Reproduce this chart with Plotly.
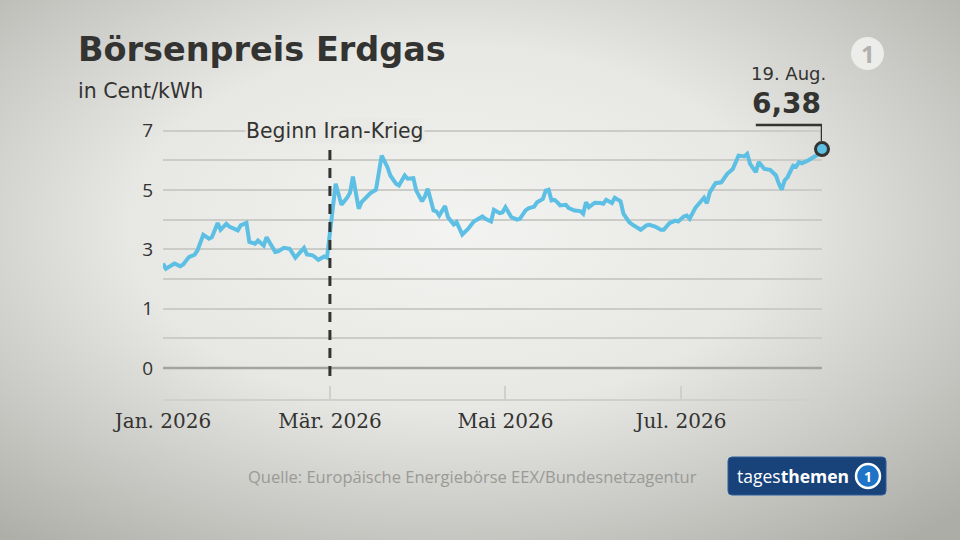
import base64
import plotly.graph_objects as go

# Börsenpreis Erdgas in Cent/kWh
dates = [
    "2026-01-02", "2026-01-03", "2026-01-06", "2026-01-08", "2026-01-09", "2026-01-11",
    "2026-01-13", "2026-01-14", "2026-01-16", "2026-01-18", "2026-01-19", "2026-01-21",
    "2026-01-22", "2026-01-24", "2026-01-25", "2026-01-28", "2026-01-29", "2026-01-31",
    "2026-02-01", "2026-02-03", "2026-02-04", "2026-02-06", "2026-02-07", "2026-02-10",
    "2026-02-11", "2026-02-13", "2026-02-15", "2026-02-17", "2026-02-20", "2026-02-21",
    "2026-02-23", "2026-02-25", "2026-02-27", "2026-02-28", "2026-03-03", "2026-03-05",
    "2026-03-07", "2026-03-08", "2026-03-09", "2026-03-11", "2026-03-12", "2026-03-14",
    "2026-03-15", "2026-03-17", "2026-03-19", "2026-03-21", "2026-03-22", "2026-03-24",
    "2026-03-25", "2026-03-27", "2026-03-28", "2026-03-30", "2026-03-31", "2026-04-02",
    "2026-04-03", "2026-04-04", "2026-04-06", "2026-04-07", "2026-04-08", "2026-04-10",
    "2026-04-11", "2026-04-13", "2026-04-14", "2026-04-16", "2026-04-18", "2026-04-20",
    "2026-04-22", "2026-04-23", "2026-04-24", "2026-04-26", "2026-04-27", "2026-04-29",
    "2026-04-30", "2026-05-01", "2026-05-03", "2026-05-05", "2026-05-06", "2026-05-08",
    "2026-05-09", "2026-05-11", "2026-05-12", "2026-05-14", "2026-05-15", "2026-05-16",
    "2026-05-17", "2026-05-18", "2026-05-19", "2026-05-20", "2026-05-22", "2026-05-23",
    "2026-05-25", "2026-05-27", "2026-05-28", "2026-05-29", "2026-05-30", "2026-06-01",
    "2026-06-03", "2026-06-04", "2026-06-05", "2026-06-07", "2026-06-08", "2026-06-10",
    "2026-06-11", "2026-06-13", "2026-06-14", "2026-06-16", "2026-06-17", "2026-06-19",
    "2026-06-20", "2026-06-22", "2026-06-24", "2026-06-25", "2026-06-27", "2026-06-29",
    "2026-06-30", "2026-07-02", "2026-07-03", "2026-07-04", "2026-07-06", "2026-07-09",
    "2026-07-10", "2026-07-11", "2026-07-13", "2026-07-15", "2026-07-17", "2026-07-19",
    "2026-07-20", "2026-07-21", "2026-07-23", "2026-07-24", "2026-07-25", "2026-07-27",
    "2026-07-28", "2026-07-30", "2026-08-01", "2026-08-03", "2026-08-04", "2026-08-05",
    "2026-08-06", "2026-08-07", "2026-08-09", "2026-08-10", "2026-08-11", "2026-08-12",
    "2026-08-14", "2026-08-15", "2026-08-17", "2026-08-19",
]
prices = [
    2.52, 2.35, 2.52, 2.43, 2.49, 2.74,
    2.82, 2.97, 3.49, 3.36, 3.41, 3.89,
    3.66, 3.86, 3.77, 3.64, 3.81, 3.89,
    3.25, 3.19, 3.30, 3.13, 3.41, 2.91,
    2.93, 3.05, 3.02, 2.72, 3.05, 2.83,
    2.80, 2.65, 2.76, 2.72, 5.21, 4.50,
    4.74, 4.91, 5.45, 4.37, 4.59, 4.78,
    4.89, 5.01, 6.16, 5.77, 5.49, 5.21,
    5.15, 5.49, 5.38, 5.40, 4.98, 4.62,
    4.78, 5.04, 4.31, 4.28, 4.14, 4.46,
    4.09, 3.84, 3.92, 3.50, 3.69, 3.94,
    4.03, 4.11, 4.03, 3.94, 4.33, 4.22,
    4.25, 4.42, 4.09, 4.00, 4.03, 4.31,
    4.38, 4.44, 4.59, 4.70, 4.98, 5.01,
    4.65, 4.67, 4.59, 4.48, 4.50, 4.39,
    4.31, 4.29, 4.20, 4.59, 4.42, 4.57,
    4.56, 4.54, 4.67, 4.56, 4.74, 4.62,
    4.20, 3.92, 3.84, 3.73, 3.66, 3.81,
    3.83, 3.77, 3.66, 3.66, 3.88, 3.97,
    3.94, 4.11, 4.14, 4.03, 4.40, 4.74,
    4.55, 4.92, 5.23, 5.26, 5.54, 5.71,
    5.97, 6.16, 6.13, 6.22, 5.88, 5.60,
    5.94, 5.71, 5.68, 5.49, 5.21, 5.01,
    5.32, 5.43, 5.82, 5.79, 5.94, 5.90,
    5.99, 6.05, 6.16, 6.38,
]

# axis labels
x_tick_dates = ["2026-01-02", "2026-03-01", "2026-05-01", "2026-07-01"]
x_tick_text = ["Jan. 2026", "Mär. 2026", "Mai 2026", "Jul. 2026"]
y_tick_vals = [-1, 0, 1, 2, 3, 4, 5, 6, 7]
y_tick_text = ["0", "", "1", "", "3", "", "5", "", "7"]

event_date = "2026-03-01"
event_label = "Beginn Iran-Krieg"
last_label = "19. Aug."
last_value_text = "6,38"

W, H = 960, 540
INK = "#333331"
LINE_BLUE = "#5cbfe3"
SANS = "DejaVu Sans"


def px(x):
    return x / W


def py(y):
    return 1 - y / H


def rounded_rect(x0, y0, x1, y1, r):
    return (f"M {px(x0 + r)},{py(y0)} L {px(x1 - r)},{py(y0)} Q {px(x1)},{py(y0)} {px(x1)},{py(y0 + r)} "
            f"L {px(x1)},{py(y1 - r)} Q {px(x1)},{py(y1)} {px(x1 - r)},{py(y1)} "
            f"L {px(x0 + r)},{py(y1)} Q {px(x0)},{py(y1)} {px(x0)},{py(y1 - r)} "
            f"L {px(x0)},{py(y0 + r)} Q {px(x0)},{py(y0)} {px(x0 + r)},{py(y0)} Z")


# soft grey studio background
svg = ('<svg xmlns="http://www.w3.org/2000/svg" width="960" height="540" viewBox="0 0 960 540" '
       'preserveAspectRatio="none">'
       '<defs><radialGradient id="g" cx="0.47" cy="0.42" r="0.75">'
       '<stop offset="0" stop-color="#f3f3f1"/><stop offset="0.45" stop-color="#e7e7e4"/>'
       '<stop offset="1" stop-color="#adada8"/></radialGradient></defs>'
       '<rect width="960" height="540" fill="url(#g)"/></svg>')
bg_src = "data:image/svg+xml;base64," + base64.b64encode(svg.encode()).decode()

fig = go.Figure()

fig.add_trace(go.Scatter(x=dates, y=prices, mode="lines",
                         line=dict(color=LINE_BLUE, width=4), hoverinfo="skip"))
fig.add_trace(go.Scatter(x=[dates[-1]], y=[prices[-1]], mode="markers", cliponaxis=False,
                         marker=dict(size=13, color=LINE_BLUE, line=dict(color=INK, width=3))))

fig.update_xaxes(domain=[px(163), px(822)], range=[dates[0], dates[-1]], type="date",
                 anchor="free", position=py(400), automargin=False,
                 showgrid=False, zeroline=False,
                 showline=True, linecolor="#cfcfcb", linewidth=1.5,
                 ticks="inside", ticklen=13, tickwidth=1.5, tickcolor="#cfcfcb",
                 tickvals=x_tick_dates, ticktext=x_tick_text, ticklabelstandoff=3,
                 tickfont=dict(family="DejaVu Serif", size=20, color=INK))
fig.update_yaxes(domain=[py(371), py(127.7)], range=[-1.1, 7.1], automargin=False,
                 showgrid=True, gridcolor="#cbcbc7", gridwidth=1.5, zeroline=False,
                 showline=False, ticks="", tickvals=y_tick_vals, ticktext=y_tick_text,
                 ticklabelstandoff=9, tickfont=dict(family="Open Sans", size=19, color=INK))

shapes = [
    # bottom line
    dict(type="line", xref="x domain", yref="y", x0=0, x1=1, y0=-1, y1=-1,
         line=dict(color="#a3a39f", width=2.5)),
    # event marker
    dict(type="line", xref="x", yref="paper", x0=event_date, x1=event_date,
         y0=py(376), y1=py(147), line=dict(color=INK, width=3, dash="10px,8px")),
    # callout connector
    dict(type="line", xref="x", yref="paper", x0="2026-07-27", x1=dates[-1],
         y0=py(125), y1=py(125), line=dict(color=INK, width=2.5)),
    dict(type="line", xref="x", yref="paper", x0=dates[-1], x1=dates[-1],
         y0=py(125), y1=py(141), line=dict(color=INK, width=2.5)),
    # ARD logo disc
    dict(type="circle", xref="paper", yref="paper", x0=px(851), x1=px(884),
         y0=py(70), y1=py(37), fillcolor="#ececea", line=dict(width=0)),
    # tagesthemen badge
    dict(type="path", xref="paper", yref="paper", path=rounded_rect(728, 457, 886, 495, 4),
         fillcolor="#17427a", line=dict(color="#2f5f9a", width=1)),
    dict(type="circle", xref="paper", yref="paper", x0=px(856), x1=px(880),
         y0=py(488), y1=py(464), fillcolor="#1f74c8", line=dict(color="white", width=2.5)),
]

annotations = [
    dict(text="<b>Börsenpreis Erdgas</b>", x=px(76), y=py(49), xanchor="left", yanchor="middle",
         font=dict(family=SANS, size=33.5, color=INK)),
    dict(text="in Cent/kWh", x=px(76), y=py(91), xanchor="left", yanchor="middle",
         font=dict(family=SANS, size=20.5, color=INK)),
    dict(text=event_label, x=event_date, xref="x", xshift=5, y=7, yref="y",
         xanchor="center", yanchor="middle",
         bgcolor="#e9e9e6", borderpad=0, font=dict(family=SANS, size=20.4, color=INK)),
    dict(text=last_label, x=px(788), y=py(73), xanchor="center", yanchor="middle",
         font=dict(family=SANS, size=18, color=INK)),
    dict(text="<b>" + last_value_text + "</b>", x=px(786), y=py(103), xanchor="center", yanchor="middle",
         font=dict(family=SANS, size=28, color=INK)),
    dict(text="Quelle: Europäische Energiebörse EEX/Bundesnetzagentur", x=px(246), y=py(476),
         xanchor="left", yanchor="middle", font=dict(family="Open Sans", size=16.5, color="#9a9a96")),
    dict(text="tages<b>themen</b>", x=px(735), y=py(476), xanchor="left", yanchor="middle",
         font=dict(family="Open Sans", size=17.5, color="white")),
    dict(text="<b>1</b>", x=px(868), y=py(476), xanchor="center", yanchor="middle",
         font=dict(family="Open Sans", size=14, color="white")),
    dict(text="<b>1</b>", x=px(867.5), y=py(53.5), xanchor="center", yanchor="middle",
         font=dict(family="Open Sans", size=24, color="#b1b1ac")),
]
for a in annotations:
    a.setdefault("xref", "paper")
    a.setdefault("yref", "paper")
    a["showarrow"] = False

fig.update_layout(width=W, height=H, autosize=False, margin=dict(l=0, r=0, t=0, b=0, autoexpand=False),
                  paper_bgcolor="#e4e4e1", plot_bgcolor="rgba(0,0,0,0)",
                  showlegend=False, shapes=shapes, annotations=annotations,
                  images=[dict(source=bg_src, xref="paper", yref="paper", x=0, y=1,
                               sizex=1, sizey=1, xanchor="left", yanchor="top",
                               sizing="stretch", layer="below")])

fig.write_html("out.html", config={"displayModeBar": False},
               post_script="document.body.style.margin='0';")
